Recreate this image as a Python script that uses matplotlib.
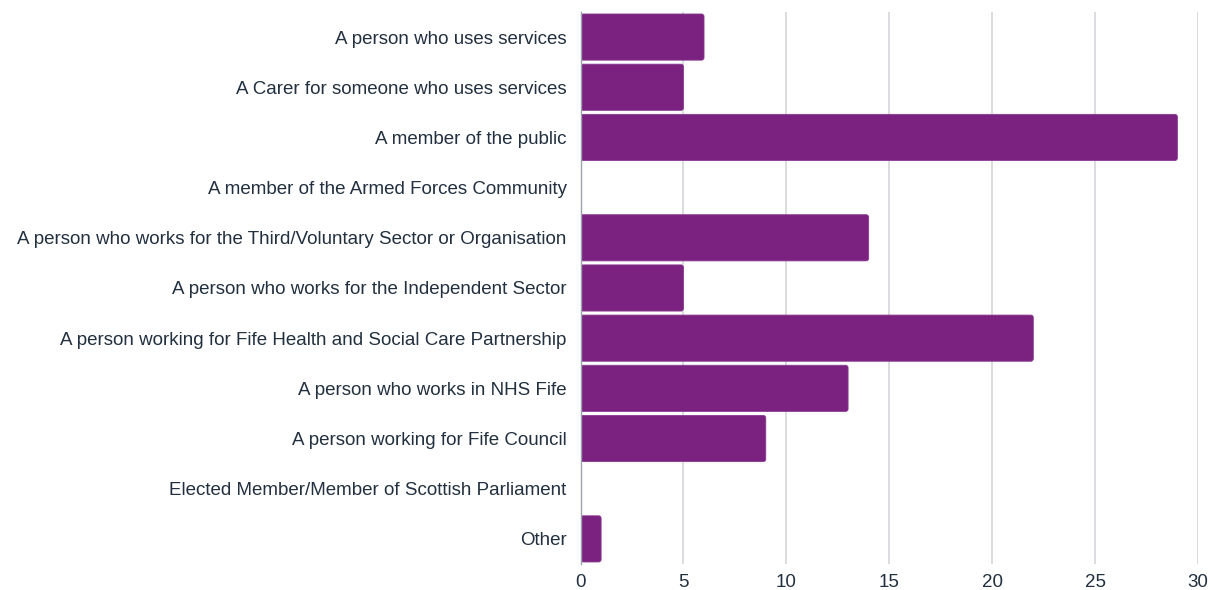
import matplotlib
matplotlib.use("Agg")
import matplotlib.pyplot as plt
from matplotlib.patches import FancyBboxPatch

categories = [
    "A person who uses services",
    "A Carer for someone who uses services",
    "A member of the public",
    "A member of the Armed Forces Community",
    "A person who works for the Third/Voluntary Sector or Organisation",
    "A person who works for the Independent Sector",
    "A person working for Fife Health and Social Care Partnership",
    "A person who works in NHS Fife",
    "A person working for Fife Council",
    "Elected Member/Member of Scottish Parliament",
    "Other",
]
counts = [6, 5, 29, 0, 14, 5, 22, 13, 9, 0, 1]
x_ticks = [0, 5, 10, 15, 20, 25, 30]

bar_color = "#7b2180"
text_color = "#22303f"
grid_color = "#d3d6da"

plt.rcParams["font.family"] = ["Liberation Sans", "DejaVu Sans"]

fig = plt.figure(figsize=(12.13, 5.9), dpi=100)
ax = fig.add_axes([0.4786, 0.0441, 0.5090, 0.9356])

ypos = list(range(len(categories)))
bars = ax.barh(ypos, counts, height=0.92, color=bar_color, zorder=3)

# swap the plain rectangles for slightly rounded ones
for rect in bars:
    w = rect.get_width()
    if w <= 0:
        rect.set_visible(False)
        continue
    x0, y0, h = rect.get_x(), rect.get_y(), rect.get_height()
    rounded = FancyBboxPatch((x0, y0), w, h,
                             boxstyle="round,pad=0,rounding_size=0.12",
                             mutation_aspect=0.42,
                             facecolor=bar_color, edgecolor="#8a3a90",
                             linewidth=0.6, zorder=3)
    ax.add_patch(rounded)
    rect.set_visible(False)

ax.set_xlim(0, 30)
ax.set_ylim(len(categories) - 0.5, -0.5)
ax.set_xticks(x_ticks)
ax.set_xticklabels([str(t) for t in x_ticks])
ax.set_yticks(ypos)
ax.set_yticklabels(categories)

ax.tick_params(axis="both", length=0, colors=text_color, labelsize=13.5)
ax.tick_params(axis="y", pad=10)
ax.tick_params(axis="x", pad=7)

ax.grid(axis="x", color=grid_color, linewidth=1.2, zorder=0)
ax.grid(axis="y", visible=False)
for side in ["top", "right", "bottom"]:
    ax.spines[side].set_visible(False)
ax.spines["left"].set_color("#9aa3ad")
ax.spines["left"].set_linewidth(1.0)
ax.spines["left"].set_zorder(4)

fig.savefig("out.png", dpi=100, facecolor="white")
